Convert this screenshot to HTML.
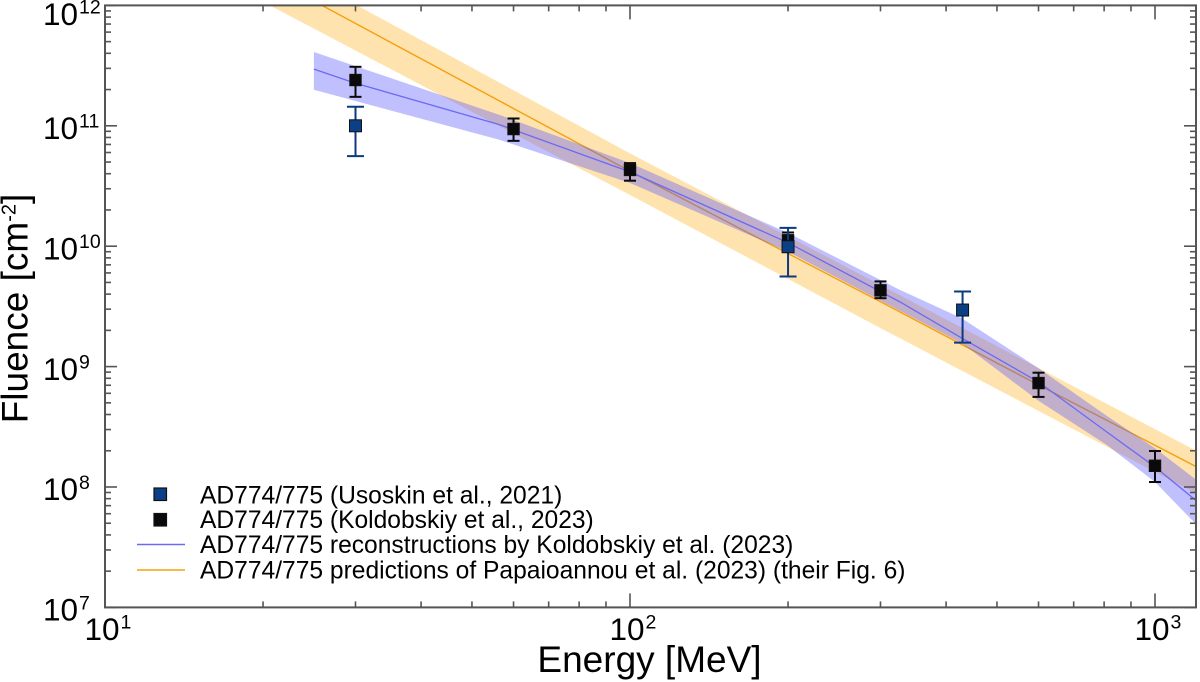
<!DOCTYPE html>
<html lang="en">
<head>
<meta charset="utf-8">
<title>AD774/775 Fluence vs Energy</title>
<style>
html,body{margin:0;padding:0;background:#fff;}
svg{display:block;font-family:"Liberation Sans",Arial,sans-serif;}
</style>
</head>
<body>
<svg id="chart" xmlns="http://www.w3.org/2000/svg" width="1200" height="682" viewBox="0 0 1200 682">
<defs><clipPath id="plot-clip"><rect x="105" y="5.4" width="1091" height="602"/></clipPath></defs>
<g id="bands-lines" clip-path="url(#plot-clip)"></g>
<g id="points"></g>
<rect x="105" y="5.4" width="1091" height="602" fill="none" stroke="#555" stroke-width="2"/>
<g id="ticks" stroke="#555" stroke-width="1.6"></g>
<g id="labels" fill="#000"></g>
<text x="649.5" y="672" font-size="37" text-anchor="middle" fill="#000">Energy [MeV]</text>
<text transform="translate(27.5,308.5) rotate(-90)" font-size="37" text-anchor="middle" fill="#000">Fluence [cm<tspan font-size="20" dy="-12">-2</tspan><tspan dy="12">]</tspan></text>
<g font-size="24.6" fill="#000">
  <rect x="154" y="488" width="12.5" height="12.5" fill="#0b3f86" stroke="#111" stroke-width="1.2"/>
  <text x="200" y="503.3">AD774/775 (Usoskin et al., 2021)</text>
  <rect x="154" y="513.5" width="12.5" height="12.5" fill="#0a0a0a" stroke="#111" stroke-width="1.2"/>
  <text x="200" y="528">AD774/775 (Koldobskiy et al., 2023)</text>
  <line x1="137" y1="544.5" x2="185" y2="544.5" stroke="#6a6af5" stroke-width="1.4"/>
  <text x="200" y="553">AD774/775 reconstructions by Koldobskiy et al. (2023)</text>
  <line x1="137" y1="570" x2="185" y2="570" stroke="#f5a010" stroke-width="1.4"/>
  <text x="200" y="578.5">AD774/775 predictions of Papaioannou et al. (2023) (their Fig. 6)</text>
</g>
</svg>
<script>
// Koldobskiy reconstruction: energies (MeV) and fluence (cm^-2)
const reconEnergy = [25, 30, 56.5, 100, 200, 327, 428, 600, 810, 1000, 1200];
const reconCentre = [2.96e11, 2.26e11, 1.02e11, 4.14e10, 1.07e10, 3.44e9, 1.73e9, 7.45e8, 2.86e8, 1.47e8, 7.65e7];
const reconBandEnergy = [25, 56.5, 100, 200, 327, 428, 600, 810, 1000, 1200];
const reconUpper = [4.1e11, 1.23e11, 4.9e10, 1.29e10, 4.33e9, 2.53e9, 9.7e8, 3.89e8, 2.1e8, 1.14e8];
const reconLower = [1.99e11, 7.64e10, 3.35e10, 9e9, 2.9e9, 1.57e9, 5.2e8, 2.23e8, 1.1e8, 4.85e7];
// Papaioannou prediction
const predCentreEnergy = [25.9, 100, 300, 600, 1200];
const predCentre = [1e12, 4.2e10, 3.46e9, 7.05e8, 1.47e8];
const predUpperEnergy = [30.2, 100, 300, 1200];
const predUpper = [1e12, 5.9e10, 4.76e9, 1.99e8];
const predLowerEnergy = [20.6, 100, 300, 1200];
const predLower = [1e12, 2.66e10, 2.09e9, 8.8e7];
// Data points
const usoskinEnergy = [30, 200, 430];
const usoskinValue = [1e11, 9.9e9, 2.95e9];
const usoskinHigh = [1.44e11, 1.42e10, 4.2e9];
const usoskinLow = [5.6e10, 5.6e9, 1.58e9];
const koldobskiyEnergy = [30, 60, 100, 200, 300, 600, 1000];
const koldobskiyValue = [2.4e11, 9.4e10, 4.3e10, 1.12e10, 4.3e9, 7.3e8, 1.5e8];
const koldobskiyHigh = [3.09e11, 1.15e11, 4.9e10, 1.3e10, 5.1e9, 8.9e8, 1.99e8];
const koldobskiyLow = [1.74e11, 7.5e10, 3.5e10, 9.5e9, 3.7e9, 5.6e8, 1.1e8];
// Axis ticks
const xDecades = [1, 2, 3];
const yDecades = [7, 8, 9, 10, 11, 12];
const minorMultipliers = [2, 3, 4, 5, 6, 7, 8, 9];

const NS = 'http://www.w3.org/2000/svg';
const sx = e => 105 + (Math.log10(e) - 1) * 525;
const sy = v => 607.4 - (Math.log10(v) - 7) * 120.4;
const X_MAX = 1196, Y_TOP = 5.4, Y_BOT = 607.4;
const mk = (tag, attrs, parent) => {
  const el = document.createElementNS(NS, tag);
  for (const k in attrs) el.setAttribute(k, attrs[k]);
  parent.appendChild(el);
  return el;
};
const pts = (es, vs) => es.map((e, i) => sx(e).toFixed(1) + ',' + sy(vs[i]).toFixed(1));
const plot = document.getElementById('bands-lines');
const pointsG = document.getElementById('points');
const ticksG = document.getElementById('ticks');
const labelsG = document.getElementById('labels');

const predBand = mk('polygon', {points: pts(predUpperEnergy, predUpper).concat(pts(predLowerEnergy, predLower).reverse()).join(' '), fill: '#ffe3ae'}, plot);


const predLine = mk('polyline', {points: pts(predCentreEnergy, predCentre).join(' '), fill: 'none', stroke: '#f5a010', 'stroke-width': 1.4}, plot);


const reconBand = mk('polygon', {points: pts(reconBandEnergy, reconUpper).concat(pts(reconBandEnergy, reconLower).reverse()).join(' '), fill: '#5050ff', 'fill-opacity': 0.36}, plot);


const reconLine = mk('polyline', {points: pts(reconEnergy, reconCentre).join(' '), fill: 'none', stroke: '#6a6af5', 'stroke-width': 1.3}, plot);



function drawSeries(es, vs, hi, lo, color, fill, cap, half) {
  es.forEach((e, i) => {
    const x = sx(e);
    const g = mk('g', {}, pointsG);
    
    
    mk('line', {x1: x, x2: x, y1: sy(hi[i]), y2: sy(lo[i]), stroke: color, 'stroke-width': 2}, g);
    mk('line', {x1: x - cap, x2: x + cap, y1: sy(hi[i]), y2: sy(hi[i]), stroke: color, 'stroke-width': 2}, g);
    mk('line', {x1: x - cap, x2: x + cap, y1: sy(lo[i]), y2: sy(lo[i]), stroke: color, 'stroke-width': 2}, g);
    mk('rect', {x: x - half, y: sy(vs[i]) - half, width: half * 2, height: half * 2, fill: fill, stroke: '#111', 'stroke-width': 1}, g);
  });
}
drawSeries(koldobskiyEnergy, koldobskiyValue, koldobskiyHigh, koldobskiyLow, '#0a0a0a', '#0a0a0a', 6, 5.7);
drawSeries(usoskinEnergy, usoskinValue, usoskinHigh, usoskinLow, '#0b3a80', '#0b3f86', 8.5, 6);

function xTick(e, len) {
  const x = sx(e);
  if (x > X_MAX) return;
  const a = mk('line', {x1: x, x2: x, y1: Y_BOT, y2: Y_BOT - len}, ticksG);
  
  
  const b = mk('line', {x1: x, x2: x, y1: Y_TOP, y2: Y_TOP + len}, ticksG);
  
  
}
function yTick(v, len) {
  const y = sy(v);
  if (y < Y_TOP - 0.5) return;
  const a = mk('line', {x1: 105, x2: 105 + len, y1: y, y2: y}, ticksG);
  
  
  const b = mk('line', {x1: X_MAX, x2: X_MAX - len, y1: y, y2: y}, ticksG);
  
  
}
function powerLabel(parent, exp, x, y, name) {
  const t = mk('text', {x: x, y: y, 'font-size': 31.5, 'text-anchor': 'start'}, parent);
  
  
  t.appendChild(document.createTextNode('10'));
  const s = mk('tspan', {'font-size': 19.5, dy: -11.3, dx: 1}, t);
  s.textContent = String(exp);
}
xDecades.forEach(d => {
  const base = Math.pow(10, d);
  xTick(base, 14);
  minorMultipliers.forEach(m => xTick(base * m, 6));
  powerLabel(labelsG, d, sx(base) - 20.5, 640, 'x-tick-label');
});
yDecades.forEach(d => {
  const base = Math.pow(10, d);
  yTick(base, 12);
  if (d < 12) minorMultipliers.forEach(m => yTick(base * m, 6));
  powerLabel(labelsG, d, 43, Math.max(25, sy(base) + 13.2), 'y-tick-label');
});
</script>
</body>
</html>
